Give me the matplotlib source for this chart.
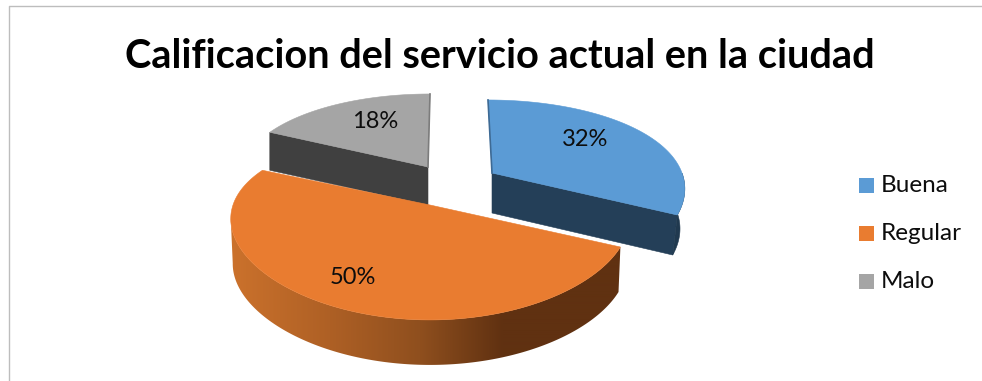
import numpy as np
import matplotlib
matplotlib.use("Agg")
import matplotlib.pyplot as plt
from matplotlib.patches import Polygon, Rectangle

title = "Calificacion del servicio actual en la ciudad"
categories = ["Buena", "Regular", "Malo"]
values = [32, 50, 18]
colors = ["#5B9BD5", "#E97C30", "#A5A5A5"]

# Screen layout, in pixels
W, H = 982, 381
centers = [(492, 173), (430, 205), (428, 167)]
radii_x = [190, 197, 187]
skews = [4, 0, -2]
drops = [40, 45, 38]
base_shrink = [0.975, 0.99, 1.0]
label_xy = [(585, 139), (353, 278), (375, 121)]
RY, PERSP_Y, PERSP_X = 89.3, 0.223, 0.15

plt.rcParams["font.family"] = ["Lato", "DejaVu Sans"]
fig = plt.figure(figsize=(W / 100, H / 100), dpi=100)
ax = fig.add_axes([0, 0, 1, 1])


def top_point(i, theta, r=1.0):
    """Project a disc point (theta clockwise from the back) to the screen."""
    x, p = np.sin(theta) * r, -np.cos(theta) * r
    cx, cy = centers[i]
    X = cx + radii_x[i] * x / (1 - PERSP_X * p) + skews[i] * p
    Y = cy + RY * p / (1 - PERSP_Y * p)
    return X, Y


def base_point(i, theta, r=1.0):
    X, Y = top_point(i, theta, r)
    cx = centers[i][0]
    return cx + (X - cx) * base_shrink[i], Y + drops[i]


def add_poly(pts, color, z):
    return ax.add_patch(Polygon(pts, closed=True, facecolor=color, edgecolor=color,
                                lw=0.4, zorder=z))


fractions = np.array(values) / sum(values)
edges = np.concatenate([[0], np.cumsum(fractions)]) * 2 * np.pi
spans = [(edges[i], edges[i + 1]) for i in range(len(values))]

# Horizontal shading of the orange rim
rim_x = np.linspace(225, 625, 400)
rim_stops = [229, 330, 420, 503, 625]
rim_rgb = np.stack([
    np.interp(rim_x, rim_stops, [0xCC, 0xAE, 0x8F, 0x60, 0x60]),
    np.interp(rim_x, rim_stops, [0x72, 0x60, 0x4F, 0x31, 0x31]),
    np.interp(rim_x, rim_stops, [0x2C, 0x25, 0x1E, 0x11, 0x11]),
], axis=-1)[np.newaxis, :, :] / 255

# Back-to-front drawing order: grey slice, blue slice, orange slice
layers = {2: 2, 0: 4, 1: 6}
for i, (a, b) in enumerate(spans):
    z = layers[i]
    th = np.linspace(a, b, 200)

    if i == 0:
        # Cut face at the trailing edge, then the short stretch of outer rim
        add_poly([top_point(i, b, 0), top_point(i, b), base_point(i, b),
                  base_point(i, b, 0)], "#243F58", z)
        rim = th[th > np.pi / 2]
        add_poly([top_point(i, t) for t in rim] +
                 [base_point(i, t) for t in rim[::-1]], "#20394F", z)
        ax.plot(*zip(top_point(i, a), top_point(i, a, 0)), color="#3E6A94",
                lw=1.2, zorder=z + 1)
    elif i == 1:
        # Only the rim up to the leftmost point of the disc faces the viewer
        front = th[:np.argmin([top_point(i, t)[0] for t in th]) + 1]
        outline = [top_point(i, t) for t in front] + [base_point(i, t) for t in front[::-1]]
        clip = Polygon(outline, closed=True, facecolor="none", edgecolor="none",
                       transform=ax.transData)
        ax.add_patch(clip)
        img = ax.imshow(rim_rgb, extent=(225, 625, 380, 150), aspect="auto",
                        interpolation="bilinear", zorder=z)
        img.set_clip_path(clip)
    else:
        # Cut face at the leading edge
        add_poly([top_point(i, a, 0), top_point(i, a), base_point(i, a),
                  base_point(i, a, 0)], "#404040", z)
        ax.plot(*zip(top_point(i, b), top_point(i, b, 0)), color="#7C7C7C",
                lw=1.2, zorder=z + 1)

    add_poly([top_point(i, a, 0)] + [top_point(i, t) for t in th],
             colors[i], z + 0.5)
    ax.text(*label_xy[i], f"{values[i]}%", fontsize=17, color="#0D0D0D",
            ha="center", va="center", zorder=10)

# Chart title
ax.text(500, 56, title, fontsize=28.6, fontweight="bold", color="black",
        ha="center", va="center")

# Legend
for y, name, col in zip([185.5, 233.5, 281.5], categories, colors):
    ax.add_patch(Rectangle((859, y - 7.5), 15, 15, facecolor=col, edgecolor="none"))
    ax.text(881, y, name, fontsize=17.5, color="#0D0D0D", ha="left", va="center")

# Chart frame: top and left rules
ax.plot([9.5, 9.5, W], [H, 5.5, 5.5], color="#BDBDBD", lw=1.0)

ax.set_xlim(0, W)
ax.set_ylim(H, 0)
ax.axis("off")
fig.savefig("out.png", dpi=100, facecolor="white")
